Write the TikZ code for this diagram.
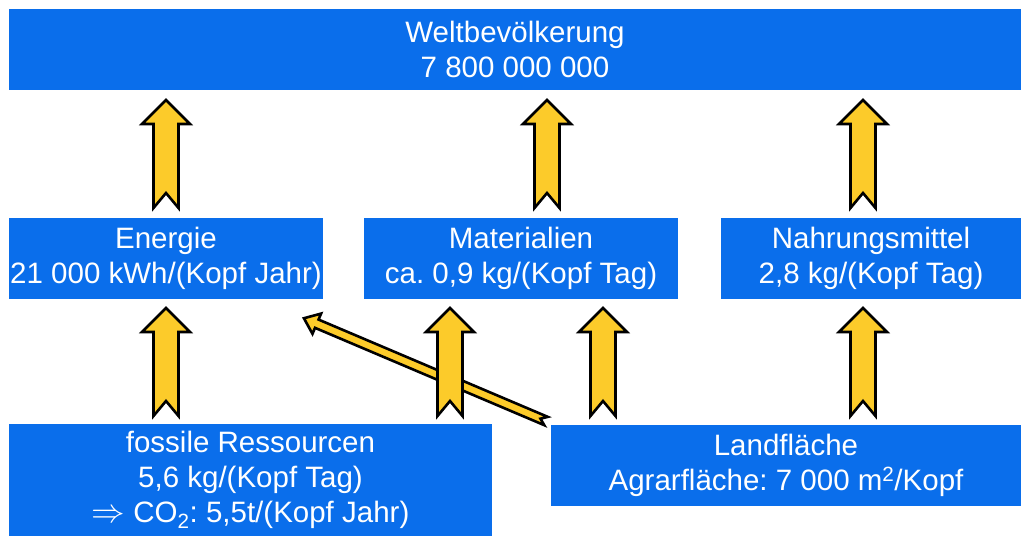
\documentclass[tikz,border=0pt]{standalone}
\usepackage{fontspec}
\setmainfont{Liberation Sans}
\usetikzlibrary{positioning}
\frenchspacing

\definecolor{boxblue}{HTML}{0A6EEB}
\definecolor{arrowyellow}{HTML}{FCCB2A}

\tikzset{
  infobox/.style={fill=boxblue,text=white,inner sep=0pt,align=center,
    font=\fontsize{29.5}{35}\selectfont},
  fatarrow/.style={fill=arrowyellow,draw=black,line width=2.6pt,line join=miter},
  % long arrow: length, half shaft, half head, head length, notch
  pics/flow/.style args={#1/#2/#3/#4/#5}{code={
    \draw[fatarrow] (0,-#2) -- (#1-#4,-#2) -- (#1-#4,-#3) -- (#1,0)
      -- (#1-#4,#3) -- (#1-#4,#2) -- (0,#2) -- (#5,0) -- cycle;
  }}
}

\begin{document}
\begin{tikzpicture}[x=1pt,y=1pt]
    \useasboundingbox (0,0) rectangle (1021,-536);
    % boxes
    \node[infobox,minimum width=1012pt,minimum height=81pt] (welt) at (515,-49.5)
        {Weltbev\"olkerung\\7 800 000 000};
    \node[infobox,minimum width=314pt,minimum height=81pt] (energie) at (166,-258.5)
        {Energie\\21 000 kWh/(Kopf Jahr)};
    \node[infobox,minimum width=314pt,minimum height=81pt] (material) at (521,-258.5)
        {Materialien\\ca. 0,9 kg/(Kopf Tag)};
    \node[infobox,minimum width=300pt,minimum height=81pt] (nahrung) at (871,-258.5)
        {Nahrungsmittel\\2,8 kg/(Kopf Tag)};
    \node[infobox,minimum width=483pt,minimum height=112pt] (fossil) at (250.5,-480)
        {fossile Ressourcen\\5,6 kg/(Kopf Tag)\\\scalebox{1.35}{$\Rightarrow$} CO\textsubscript{2}: 5,5t/(Kopf Jahr)};
    \node[infobox,minimum width=470pt,minimum height=81pt] (land) at (786,-465.5)
        {Landfl\"ache\\Agrarfl\"ache: 7 000 m\textsuperscript{2}/Kopf};
    % arrow tails
    \coordinate (d1) at (546,-421);
    \coordinate (a1) at (166,-208);
    \coordinate (a2) at (547,-208);
    \coordinate (a3) at (863,-208);
    \coordinate (b1) at (166,-416);
    \coordinate (b2) at (450,-416);
    \coordinate (b3) at (603,-416);
    \coordinate (b4) at (863,-416);
    % land -> energie
    \pic[rotate=157] at (d1) {flow=263/4.5/11/14/6};
    \foreach \t in {a1,a2,a3}
        \pic[rotate=90] at (\t) {flow=108/12.5/24/24/15};
    \foreach \t in {b1,b2,b3,b4}
        \pic[rotate=90] at (\t) {flow=108/12.5/24/24/15};
\end{tikzpicture}
\end{document}
